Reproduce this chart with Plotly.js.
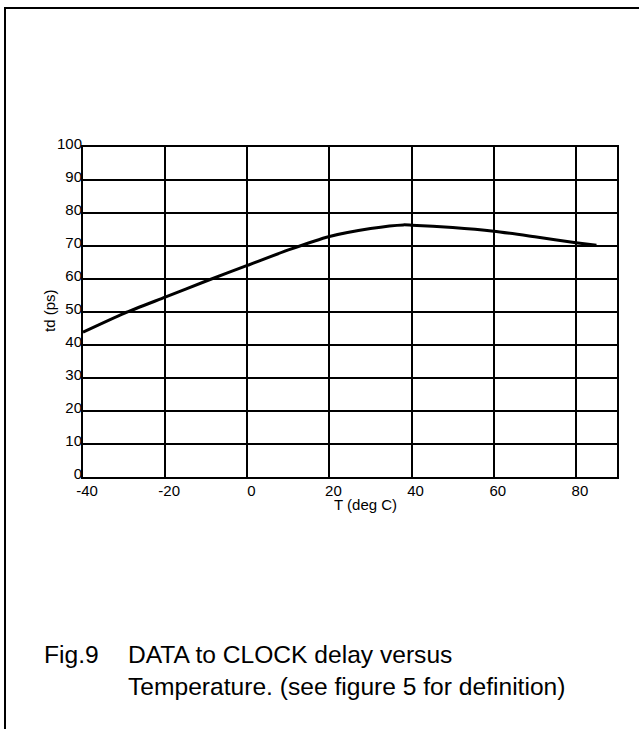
<!DOCTYPE html>
<html>
<head>
<meta charset="utf-8">
<script src="https://cdn.plot.ly/plotly-3.0.1.min.js"></script>
<style>
html,body{margin:0;padding:0;background:#fff;}
#chart{width:639px;height:729px;}
</style>
</head>
<body>
<div id="chart"></div>
<script>
const temperature = [-40, -30, -20, -10, 0, 10, 20, 30, 38, 40, 50, 60, 70, 80, 85];
const delayPs = [43.9, 49.6, 54.5, 59.4, 64.1, 68.8, 72.9, 75.3, 76.4, 76.3, 75.6, 74.5, 72.8, 71.0, 70.2];
const xTicks = [-40, -20, 0, 20, 40, 60, 80];
const yTicks = [0, 10, 20, 30, 40, 50, 60, 70, 80, 90, 100];
const xTitle = 'T (deg C)';
const yTitle = 'td (ps)';
const captionFig = 'Fig.9';
const captionLine1 = 'DATA to CLOCK delay versus';
const captionLine2 = 'Temperature. (see figure 5 for definition)';

const FONT = 'Liberation Sans, Arial, sans-serif';
const L = 83, R = 22, T = 147, B = 252, W = 639, H = 729;
const pw = W - L - R, ph = H - T - B;
const px = v => (v - L) / pw;
const py = v => (H - B - v) / ph;

const trace = {
  x: temperature, y: delayPs, type: 'scatter', mode: 'lines',
  line: {color: '#000', width: 3, shape: 'spline', smoothing: 0.6},
  hoverinfo: 'skip'
};

const layout = {
  width: W, height: H,
  margin: {l: L, r: R, t: T, b: B, pad: 0},
  paper_bgcolor: '#fff', plot_bgcolor: '#fff',
  showlegend: false,
  font: {family: FONT, size: 14, color: '#000'},
  xaxis: {
    range: [-40, 90], tickvals: xTicks, ticktext: xTicks.map(String),
    showgrid: true, gridcolor: '#000', gridwidth: 2,
    showline: true, linecolor: '#000', linewidth: 2, mirror: true,
    zeroline: false, ticks: '', ticklabelstandoff: -1, ticklabelshift: 4,
    tickfont: {family: FONT, size: 15, color: '#000'}
  },
  yaxis: {
    range: [0, 100], tickvals: yTicks, ticktext: yTicks.map(String),
    showgrid: true, gridcolor: '#000', gridwidth: 2,
    showline: true, linecolor: '#000', linewidth: 2, mirror: true,
    zeroline: false, ticks: '', ticklabelstandoff: -4, ticklabelshift: -3,
    tickfont: {family: FONT, size: 15, color: '#000'}
  },
  shapes: [
    {type: 'line', xref: 'paper', yref: 'paper', x0: px(4), x1: px(639), y0: py(8), y1: py(8), line: {color: '#000', width: 2}},
    {type: 'line', xref: 'paper', yref: 'paper', x0: px(5), x1: px(5), y0: py(8), y1: py(729), line: {color: '#000', width: 2}}
  ],
  annotations: [
    {text: xTitle, xref: 'paper', yref: 'paper', x: px(365.5), y: py(504), xanchor: 'center', yanchor: 'middle', showarrow: false, font: {family: FONT, size: 15, color: '#000'}},
    {text: yTitle, xref: 'paper', yref: 'paper', x: px(49), y: py(311), xanchor: 'center', yanchor: 'middle', textangle: -90, showarrow: false, font: {family: FONT, size: 15, color: '#000'}},
    {text: captionFig, xref: 'paper', yref: 'paper', x: px(42), y: py(654), xanchor: 'left', yanchor: 'middle', showarrow: false, font: {family: FONT, size: 24.6, color: '#000'}},
    {text: captionLine1, xref: 'paper', yref: 'paper', x: px(126), y: py(654), xanchor: 'left', yanchor: 'middle', showarrow: false, font: {family: FONT, size: 24.6, color: '#000'}},
    {text: captionLine2, xref: 'paper', yref: 'paper', x: px(126), y: py(686), xanchor: 'left', yanchor: 'middle', showarrow: false, font: {family: FONT, size: 24.6, color: '#000'}}
  ]
};

Plotly.newPlot('chart', [trace], layout, {displayModeBar: false, staticPlot: true});
</script>
</body>
</html>
